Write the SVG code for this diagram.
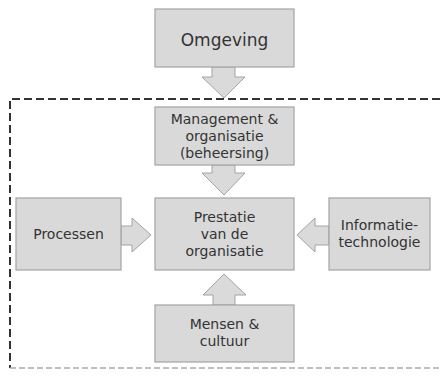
<svg xmlns="http://www.w3.org/2000/svg" width="440" height="377" viewBox="0 0 440 377">
<style>
.box{fill:#d9d9d9;stroke:#a3a3a3;stroke-width:1.2}
.arr{fill:#dadada;stroke:#a3a3a3;stroke-width:1}
text{font-family:"DejaVu Sans",Verdana,sans-serif;font-size:14px;fill:#333;text-anchor:middle}
</style>
<rect width="440" height="377" fill="#fff"/>
<g id="boundary">
<path d="M440,99 H10 V368" fill="none" stroke="#333" stroke-width="2" stroke-dasharray="8,4"/>
<path d="M10,368 H440" fill="none" stroke="#aaa" stroke-width="1.3" stroke-dasharray="6,3"/>
</g>
<g id="connectors">
<polygon class="arr" points="212,67 235,67 235,77 245,77 224,98 202,77 212,77"/>
<polygon class="arr" points="212,165 235,165 235,173 245,173 224,195 202,173 212,173"/>
<polygon class="arr" points="213,305 235,305 235,295 246,295 224,274 203,295 213,295"/>
<polygon class="arr" points="121,226 132,226 132,218 151,235 132,252 132,245 121,245"/>
<polygon class="arr" points="329,226 315,226 315,218 297,235 315,252 315,245 329,245"/>
</g>
<g id="omgeving">
<rect class="box" x="155" y="9" width="139" height="58"/>
<text x="224.5" y="46" style="font-size:17px">Omgeving</text>
</g>
<g id="management">
<rect class="box" x="155" y="107" width="139" height="58"/>
<text x="224.5" y="124">Management &amp;</text>
<text x="224.5" y="141">organisatie</text>
<text x="224.5" y="158">(beheersing)</text>
</g>
<g id="prestatie">
<rect class="box" x="155" y="198" width="139" height="72"/>
<text x="224.5" y="222">Prestatie</text>
<text x="224.5" y="239">van de</text>
<text x="224.5" y="256">organisatie</text>
</g>
<g id="processen">
<rect class="box" x="16" y="198" width="105" height="72"/>
<text x="68.5" y="239">Processen</text>
</g>
<g id="informatietechnologie">
<rect class="box" x="329" y="198" width="101" height="72"/>
<text x="379.5" y="230">Informatie-</text>
<text x="379.5" y="247">technologie</text>
</g>
<g id="mensen">
<rect class="box" x="155" y="305" width="139" height="57"/>
<text x="224.5" y="329">Mensen &amp;</text>
<text x="224.5" y="346">cultuur</text>
</g>
</svg>
